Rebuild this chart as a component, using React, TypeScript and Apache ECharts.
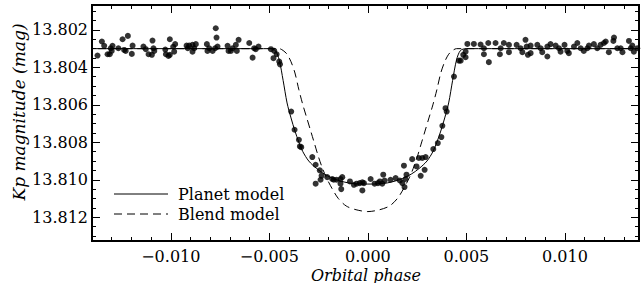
import React, { useEffect, useRef } from "react";
import * as echarts from "echarts";

const obsPhase = [
  -0.01372, -0.0135, -0.01338, -0.01321, -0.0131, -0.01305, -0.01296, -0.013, -0.01266, -0.01245,
  -0.01237, -0.01229, -0.01218, -0.01198, -0.01194, -0.01139, -0.01127, -0.01113, -0.01096, -0.01093,
  -0.01088, -0.01084, -0.01028, -0.01025, -0.01012, -0.01005, -0.01005, -0.00988, -0.00978, -0.00983,
  -0.0092, -0.00907, -0.0089, -0.00914, -0.0089, -0.00881, -0.00873, -0.00817, -0.00814, -0.00805,
  -0.00788, -0.00775, -0.00772, -0.00768, -0.00763, -0.00712, -0.00707, -0.00695, -0.00687, -0.0067,
  -0.00665, -0.00656, -0.00602, -0.00585, -0.00577, -0.00569, -0.00555, -0.00492, -0.00475, -0.00479,
  -0.00463, -0.0045, -0.00446,
  -0.00389, -0.00372, -0.0035, -0.00345, -0.00338, -0.00282, -0.00265, -0.00244, -0.00235, -0.0024, -0.00265,
  -0.00206, -0.00181, -0.00173, -0.00159, -0.00139, -0.0013, -0.00139, -0.00135, -0.00091, -0.00071,
  -0.00057, -0.00041, -0.00028, -0.00028, -0.0002, 0.00014, 0.00034, 0.00051, 0.00061, 0.00073,
  0.00078, 0.00085, 0.00115, 0.00141, 0.00162, 0.00175, 0.00186, 0.00191, 0.00196, 0.00183,
  0.00225, 0.00247, 0.00259, 0.00276, 0.00293, 0.00288, 0.00268, 0.00332, 0.00355, 0.00373,
  0.00378, 0.004, 0.00394, 0.00437, 0.00462, 0.00471, 0.00484, 0.00496, 0.00496, 0.00505,
  0.00538, 0.00572,
  0.00589, 0.00589, 0.00611, 0.00614, 0.00648, 0.0067, 0.00674, 0.0069, 0.00716, 0.00716,
  0.00755, 0.00775, 0.00784, 0.008, 0.00806, 0.00812, 0.00826, 0.00826, 0.0086, 0.00877,
  0.00885, 0.00911, 0.00911, 0.00927, 0.00953, 0.0097, 0.00978, 0.00998, 0.01012, 0.0102,
  0.01046, 0.01063, 0.0108, 0.01096, 0.01114, 0.01122, 0.01147, 0.01164, 0.01181, 0.01198,
  0.01207, 0.01223, 0.01249, 0.01246, 0.01266, 0.01283, 0.01292, 0.01325, 0.01334, 0.01342,
  0.0135, 0.01367,
];

const obsMag = [
  13.80337, 13.80262, 13.80285, 13.8033, 13.8033, 13.80298, 13.80285, 13.80312, 13.80298, 13.8025,
  13.80307, 13.80312, 13.80232, 13.80328, 13.80284, 13.80289, 13.80303, 13.8033, 13.80333, 13.80257,
  13.80298, 13.80312, 13.80305, 13.8033, 13.80339, 13.80333, 13.8025, 13.8029, 13.80276, 13.80316,
  13.80284, 13.80284, 13.8028, 13.80298, 13.80316, 13.80298, 13.80276, 13.80276, 13.80312, 13.80298,
  13.80312, 13.80298, 13.80191, 13.80241, 13.80289, 13.80285, 13.80312, 13.80312, 13.80298, 13.8028,
  13.80312, 13.80253, 13.8027, 13.80348, 13.80298, 13.80303, 13.80289, 13.80303, 13.80312, 13.80351,
  13.8033, 13.80369, 13.80384,
  13.80636, 13.80733, 13.80787, 13.80822, 13.80826, 13.80879, 13.8092, 13.8095, 13.80979, 13.81, 13.81021,
  13.80986, 13.80996, 13.81, 13.81, 13.80996, 13.80986, 13.81021, 13.8105, 13.81009, 13.81027,
  13.81021, 13.81018, 13.81014, 13.81057, 13.81018, 13.80996, 13.81021, 13.81018, 13.81009, 13.81021,
  13.80973, 13.81004, 13.81, 13.80991, 13.81004, 13.81018, 13.81039, 13.80996, 13.80973, 13.80925,
  13.8089, 13.80929, 13.80884, 13.80884, 13.80879, 13.80947, 13.80979, 13.80836, 13.80804, 13.80772,
  13.80712, 13.80636, 13.80618, 13.80449, 13.80364, 13.80364, 13.80333, 13.80346, 13.80316, 13.80275,
  13.80275, 13.80278,
  13.80298, 13.8033, 13.8027, 13.80372, 13.8027, 13.8033, 13.80298, 13.8027, 13.8028, 13.80319,
  13.8028, 13.80298, 13.80319, 13.80253, 13.80289, 13.80333, 13.80324, 13.80284, 13.8028, 13.80298,
  13.80319, 13.80289, 13.80342, 13.80276, 13.80284, 13.80298, 13.80316, 13.8028, 13.80312, 13.80324,
  13.80289, 13.8027, 13.80298, 13.80312, 13.80298, 13.80284, 13.80276, 13.80298, 13.8028, 13.8027,
  13.80262, 13.80319, 13.80241, 13.80259, 13.80298, 13.80298, 13.80319, 13.80259, 13.80298, 13.80284,
  13.80316, 13.80298,
];

const planetPhase = [
  -0.015, -0.005, -0.0047, -0.0045, -0.0043, -0.0041, -0.0039, -0.0037, -0.0035, -0.0033, -0.003,
  -0.0026, -0.0022, -0.0016, -0.0008, 0, 0.0008, 0.0016, 0.0022, 0.0026, 0.003, 0.0033, 0.0035,
  0.0037, 0.0039, 0.0041, 0.0043, 0.0045, 0.0047, 0.005, 0.015,
];
const planetMag = [
  13.803, 13.803, 13.8031, 13.8036, 13.8047, 13.8059, 13.8067, 13.8074, 13.808, 13.8085, 13.809,
  13.8094, 13.8097, 13.81, 13.8102, 13.81023, 13.8102, 13.81, 13.8097, 13.8094, 13.809, 13.8085, 13.808,
  13.8074, 13.8067, 13.8059, 13.8047, 13.8036, 13.8031, 13.803, 13.803,
];

const blendPhase = [
  -0.015, -0.0045, -0.0043, -0.0041, -0.0039, -0.0037, -0.0035, -0.0033, -0.0031, -0.0029, -0.0027,
  -0.0025, -0.0023, -0.0021, -0.0018, -0.0015, -0.0011, -0.0006, 0, 0.0006, 0.0011, 0.0015, 0.0018,
  0.0021, 0.0023, 0.0025, 0.0027, 0.0029, 0.0031, 0.0033, 0.0035, 0.0037, 0.0039, 0.0041, 0.0043,
  0.0045, 0.015,
];
const blendMag = [
  13.803, 13.803, 13.8031, 13.8033, 13.8037, 13.8043, 13.8052, 13.806, 13.8067, 13.8074, 13.8081,
  13.8088, 13.8094, 13.8099, 13.8105, 13.811, 13.8114, 13.8116, 13.8117, 13.8116, 13.8114, 13.811, 13.8105,
  13.8099, 13.8094, 13.8088, 13.8081, 13.8074, 13.8067, 13.806, 13.8052, 13.8043, 13.8037, 13.8033, 13.8031,
  13.803, 13.803,
];

const xMajorTicks = [-0.01, -0.005, 0, 0.005, 0.01];
const xMinorTicks = [
  -0.014, -0.013, -0.012, -0.011, -0.009, -0.008, -0.007, -0.006, -0.004, -0.003, -0.002, -0.001,
  0.001, 0.002, 0.003, 0.004, 0.006, 0.007, 0.008, 0.009, 0.011, 0.012, 0.013,
];
const yMajorTicks = [13.802, 13.804, 13.806, 13.808, 13.81, 13.812];
const yMinorTicks = [
  13.801, 13.8015, 13.8025, 13.803, 13.8035, 13.8045, 13.805, 13.8055, 13.8065, 13.807, 13.8075,
  13.8085, 13.809, 13.8095, 13.8105, 13.811, 13.8115, 13.8125, 13.813,
];

const X_MIN = -0.014;
const X_MAX = 0.01376;
const Y_MIN = 13.80067;
const Y_MAX = 13.81327;

const FONT = "DejaVu Serif";

function zip(a: number[], b: number[]) {
  return a.map((v, i) => [v, b[i]]);
}

export default function App() {
  const ref = useRef<HTMLDivElement>(null);
  useEffect(() => {
    if (!ref.current) return;
    const chart = echarts.init(ref.current, null, { renderer: "svg" });
    const lineStyle = { color: "#000", width: 2 };
    const mkX = (position: string, ticks: number[], len: number, labels: boolean) => ({
      type: "value",
      position,
      min: X_MIN,
      max: X_MAX,
      splitLine: { show: false },
      axisLine: { show: true, onZero: false, lineStyle },
      axisTick: { show: true, inside: true, length: len, customValues: ticks, lineStyle: { color: "#000", width: 1 } },
      axisLabel: labels
        ? {
            show: true,
            customValues: ticks,
            margin: 7,
            color: "#000",
            fontFamily: FONT,
            fontSize: 16,
            lineHeight: 16,
            formatter: (v: number) => (v < 0 ? "\u2212" + Math.abs(v).toFixed(3) : v.toFixed(3)),
          }
        : { show: false },
    });
    const mkY = (position: string, ticks: number[], len: number, labels: boolean) => ({
      type: "value",
      position,
      inverse: true,
      min: Y_MIN,
      max: Y_MAX,
      splitLine: { show: false },
      axisLine: { show: true, onZero: false, lineStyle },
      axisTick: { show: true, inside: true, length: len, customValues: ticks, lineStyle: { color: "#000", width: 1 } },
      axisLabel: labels
        ? {
            show: true,
            customValues: ticks,
            margin: 4,
            color: "#000",
            fontFamily: FONT,
            fontSize: 16,
            formatter: (v: number) => v.toFixed(3),
          }
        : { show: false },
    });
    chart.setOption({
      animation: false,
      backgroundColor: "#fff",
      grid: { left: 92, right: 3, top: 5, bottom: 42, containLabel: false },
      xAxis: [
        mkX("bottom", xMajorTicks, 8, true),
        mkX("bottom", xMinorTicks, 4, false),
        mkX("top", xMajorTicks, 8, false),
        mkX("top", xMinorTicks, 4, false),
      ],
      yAxis: [
        mkY("left", yMajorTicks, 8, true),
        mkY("left", yMinorTicks, 4, false),
        mkY("right", yMajorTicks, 8, false),
        mkY("right", yMinorTicks, 4, false),
      ],
      series: [
        {
          type: "line",
          data: zip(planetPhase, planetMag),
          showSymbol: false,
          smooth: 0.3,
          lineStyle: { color: "#000", width: 1 },
          z: 2,
        },
        {
          type: "line",
          data: zip(blendPhase, blendMag),
          showSymbol: false,
          smooth: 0.3,
          lineStyle: { color: "#000", width: 1, type: [8, 5] },
          z: 2,
        },
        {
          type: "scatter",
          data: zip(obsPhase, obsMag),
          symbol: "circle",
          symbolSize: 6,
          itemStyle: { color: "#000" },
          z: 3,
        },
      ],
      graphic: [
        { type: "line", shape: { x1: 114, y1: 194, x2: 168, y2: 194 }, style: { stroke: "#000", lineWidth: 1 } },
        {
          type: "text",
          x: 178,
          y: 194,
          style: { text: "Planet model", fill: "#000", font: `16px "${FONT}"`, verticalAlign: "middle" },
        },
        {
          type: "line",
          shape: { x1: 114, y1: 214, x2: 168, y2: 214 },
          style: { stroke: "#000", lineWidth: 1, lineDash: [8, 5] },
        },
        {
          type: "text",
          x: 178,
          y: 214,
          style: { text: "Blend model", fill: "#000", font: `16px "${FONT}"`, verticalAlign: "middle" },
        },
        {
          type: "text",
          x: 366,
          y: 275,
          style: {
            text: "Orbital phase",
            fill: "#000",
            font: `italic 16px "${FONT}"`,
            lineHeight: 16,
            align: "center",
            verticalAlign: "middle",
          },
        },
        {
          type: "text",
          x: 19,
          y: 112,
          rotation: Math.PI / 2,
          style: {
            text: "Kp magnitude (mag)",
            fill: "#000",
            font: `italic 17px "${FONT}"`,
            align: "center",
            verticalAlign: "middle",
          },
        },
      ],
    });
    return () => chart.dispose();
  }, []);
  return (
    <div
      ref={ref}
      style={{ position: "fixed", left: 0, top: 0, width: 642, height: 283, background: "#fff" }}
    />
  );
}
